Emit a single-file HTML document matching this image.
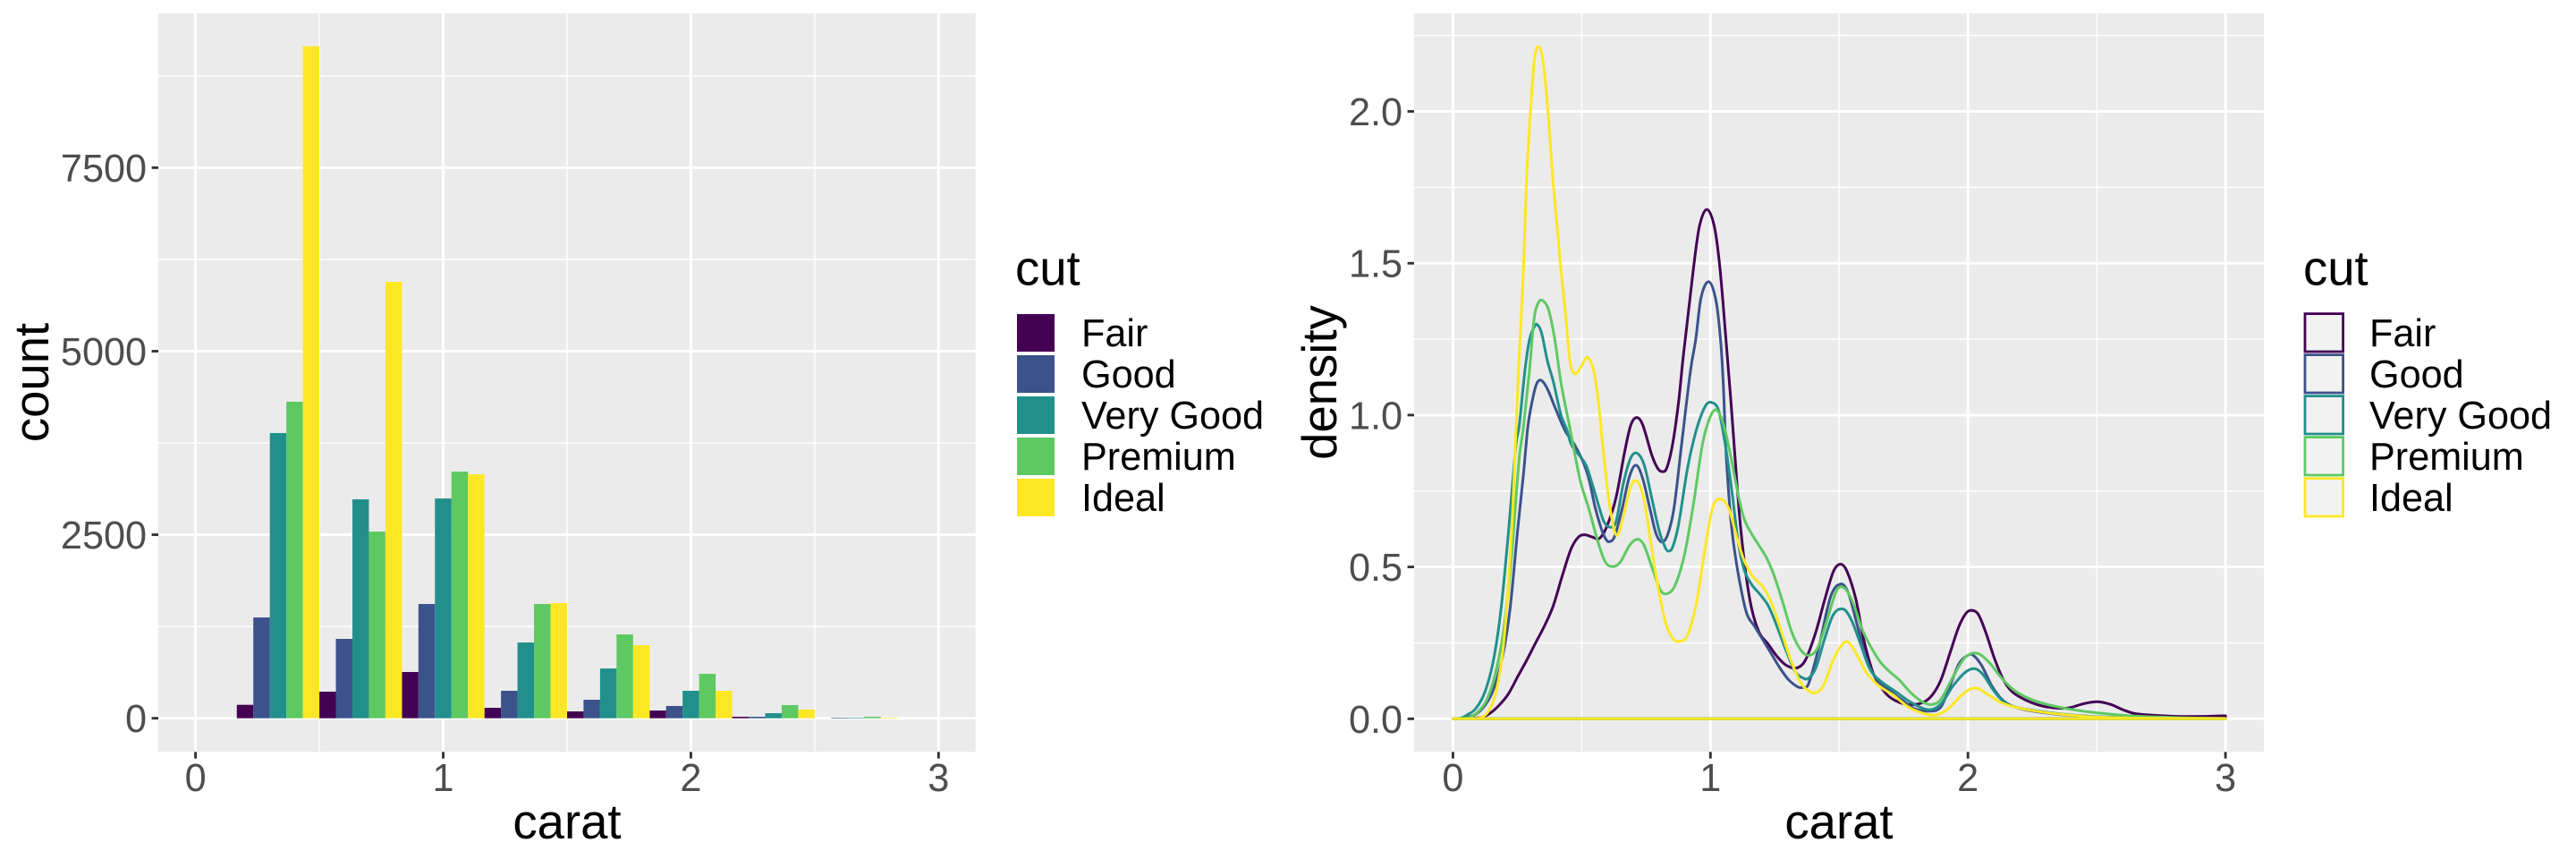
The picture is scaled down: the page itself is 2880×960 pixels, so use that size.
<!DOCTYPE html>
<html lang="en">
<head>
<meta charset="utf-8">
<title>Diamond carat by cut: histogram and density</title>
<style>
html,body{margin:0;padding:0;background:#fff;width:2880px;height:960px;overflow:hidden}
svg{display:block}
text{font-family:"Liberation Sans",sans-serif}
.tick{font-size:43.2px;fill:#4D4D4D}
.title{font-size:54.5px;fill:#000}
.leg{font-size:43.2px;fill:#000}
</style>
</head>
<body>
<svg id="figure" width="2880" height="960" viewBox="0 0 2880 960" xmlns="http://www.w3.org/2000/svg">
  <rect x="0" y="0" width="2880" height="960" fill="#fff"/>
  <g id="left"></g>
  <g id="right"></g>

  <text class="title" x="634" y="937" text-anchor="middle">carat</text>
  <text class="title" transform="translate(54 427.5) rotate(-90)" text-anchor="middle">count</text>
  <text class="title" x="2056" y="937" text-anchor="middle">carat</text>
  <text class="title" transform="translate(1494 427.5) rotate(-90)" text-anchor="middle">density</text>

  <text class="title" x="1135" y="318.5">cut</text>
  <text class="title" x="2575" y="318.5">cut</text>
</svg>
<script>
// ---------- shared categories ----------
const cuts = ["Fair", "Good", "Very Good", "Premium", "Ideal"];
const cutColors = ["#440154", "#3B528B", "#21908C", "#5EC962", "#FDE725"];

// ---------- histogram data ----------
const binStarts = [1/6, 1/2, 5/6, 7/6, 3/2, 11/6, 13/6, 5/2];
const binWidth = 1/3;
const countFair = [183, 362, 630, 142, 93, 105, 20, 0];
const countGood = [1373, 1081, 1556, 374, 252, 167, 20, 8];
const countVeryGood = [3885, 2982, 2994, 1032, 678, 374, 69, 8];
const countPremium = [4312, 2543, 3360, 1556, 1142, 605, 179, 20];
const countIdeal = [9154, 5945, 3323, 1568, 995, 374, 118, 8];
const histYTicks = [0, 2500, 5000, 7500];
const histYMinor = [1250, 3750, 6250, 8750];
const xTicks = [0, 1, 2, 3];
const xMinor = [0.5, 1.5, 2.5];

// ---------- density data: [carat, density] pairs ----------
const densFair = [[0,0],[.05,.001],[.112,.005],[.147,.02],[.182,.047],[.216,.083],[.251,.138],[.286,.192],[.321,.25],[.355,.305],[.39,.373],[.425,.472],[.459,.56],[.488,.599],[.511,.606],[.54,.599],[.569,.594],[.598,.634],[.633,.727],[.668,.884],[.691,.968],[.714,.992],[.737,.968],[.772,.869],[.795,.825],[.812,.814],[.83,.825],[.853,.904],[.876,1.041],[.894,1.19],[.934,1.483],[.957,1.621],[.986,1.677],[1.015,1.621],[1.037,1.483],[1.063,1.22],[1.079,1.051],[1.096,.855],[1.114,.658],[1.137,.481],[1.16,.363],[1.189,.285],[1.224,.246],[1.258,.206],[1.293,.177],[1.334,.167],[1.368,.192],[1.409,.285],[1.444,.393],[1.478,.486],[1.505,.509],[1.53,.486],[1.565,.393],[1.594,.265],[1.629,.157],[1.652,.118],[1.687,.078],[1.733,.054],[1.779,.047],[1.826,.054],[1.861,.078],[1.895,.128],[1.93,.216],[1.965,.304],[1.994,.349],[2.015,.357],[2.04,.344],[2.069,.285],[2.104,.196],[2.138,.128],[2.173,.088],[2.231,.059],[2.289,.042],[2.347,.035],[2.393,.036],[2.451,.05],[2.503,.056],[2.555,.047],[2.601,.03],[2.648,.017],[2.717,.012],[2.81,.008],[2.925,.008],[3,.01]];
const densGood = [[0,0],[.03,.001],[.054,.005],[.089,.015],[.124,.044],[.158,.098],[.193,.206],[.222,.363],[.251,.619],[.274,.806],[.291,.962],[.309,1.051],[.326,1.105],[.344,1.114],[.367,1.086],[.396,1.026],[.436,.948],[.471,.904],[.506,.845],[.529,.786],[.552,.697],[.575,.629],[.592,.594],[.606,.583],[.627,.599],[.656,.688],[.685,.796],[.711,.835],[.737,.791],[.766,.688],[.789,.609],[.812,.582],[.835,.609],[.859,.697],[.888,.904],[.923,1.149],[.943,1.25],[.963,1.385],[.994,1.439],[1.022,1.375],[1.04,1.24],[1.05,1.1],[1.061,.87],[1.079,.658],[1.096,.54],[1.12,.422],[1.142,.344],[1.171,.305],[1.2,.265],[1.235,.216],[1.27,.167],[1.304,.128],[1.339,.105],[1.357,.103],[1.38,.113],[1.421,.236],[1.467,.403],[1.507,.444],[1.536,.413],[1.571,.305],[1.606,.196],[1.652,.122],[1.698,.092],[1.744,.062],[1.791,.034],[1.849,.025],[1.895,.039],[1.93,.108],[1.965,.181],[1.994,.206],[2.017,.211],[2.052,.177],[2.093,.108],[2.138,.059],[2.185,.038],[2.254,.025],[2.347,.015],[2.463,.008],[2.636,.003],[3,.001]];
const densVeryGood = [[0,0],[.03,.002],[.054,.012],[.089,.034],[.124,.088],[.158,.196],[.187,.363],[.216,.619],[.245,.904],[.257,.962],[.28,1.15],[.297,1.247],[.315,1.289],[.326,1.299],[.344,1.271],[.367,1.178],[.39,1.11],[.419,1.002],[.442,.953],[.459,.904],[.494,.864],[.517,.835],[.54,.776],[.564,.707],[.587,.648],[.61,.631],[.633,.648],[.662,.776],[.691,.86],[.716,.874],[.743,.835],[.772,.727],[.801,.619],[.824,.565],[.836,.552],[.853,.565],[.876,.639],[.911,.825],[.946,.953],[.981,1.031],[1.007,1.041],[1.033,1.012],[1.061,.884],[1.085,.737],[1.108,.58],[1.131,.491],[1.16,.442],[1.189,.413],[1.224,.373],[1.258,.305],[1.293,.226],[1.328,.157],[1.357,.135],[1.38,.133],[1.409,.167],[1.444,.265],[1.478,.344],[1.517,.361],[1.548,.324],[1.583,.246],[1.617,.167],[1.652,.13],[1.722,.088],[1.779,.054],[1.849,.03],[1.895,.049],[1.942,.108],[1.988,.152],[2.025,.165],[2.057,.147],[2.104,.088],[2.15,.049],[2.208,.034],[2.277,.025],[2.37,.015],[2.52,.006],[3,.001]];
const densPremium = [[0,0],[.04,.001],[.066,.005],[.1,.025],[.135,.069],[.17,.167],[.199,.305],[.228,.54],[.257,.855],[.274,.962],[.297,1.145],[.315,1.316],[.332,1.37],[.349,1.377],[.372,1.345],[.396,1.247],[.419,1.11],[.454,.958],[.494,.786],[.529,.688],[.564,.58],[.592,.516],[.621,.501],[.65,.516],[.685,.57],[.714,.591],[.74,.575],[.772,.501],[.807,.422],[.836,.413],[.864,.442],[.899,.54],[.934,.707],[.969,.904],[.998,.992],[1.023,1.017],[1.05,.972],[1.079,.864],[1.108,.737],[1.131,.658],[1.16,.609],[1.189,.57],[1.218,.53],[1.247,.472],[1.281,.383],[1.316,.285],[1.351,.226],[1.383,.209],[1.415,.231],[1.449,.314],[1.49,.422],[1.521,.43],[1.553,.383],[1.594,.285],[1.652,.196],[1.687,.162],[1.733,.128],[1.779,.085],[1.826,.054],[1.861,.047],[1.895,.064],[1.942,.138],[1.988,.201],[2.034,.216],[2.081,.187],[2.127,.138],[2.173,.098],[2.231,.069],[2.3,.049],[2.393,.032],[2.486,.021],[2.613,.011],[2.81,.004],[3,.001]];
const densIdeal = [[0,0],[.08,.001],[.112,.005],[.141,.029],[.17,.098],[.199,.265],[.228,.619],[.245,.953],[.257,1.188],[.274,1.483],[.286,1.777],[.303,2.023],[.318,2.18],[.333,2.213],[.349,2.17],[.367,2.023],[.388,1.777],[.419,1.483],[.436,1.345],[.454,1.179],[.473,1.136],[.5,1.163],[.522,1.19],[.546,1.149],[.564,1.051],[.581,.904],[.603,.737],[.627,.619],[.642,.609],[.662,.668],[.691,.766],[.717,.781],[.743,.717],[.772,.56],[.801,.413],[.83,.305],[.859,.26],[.882,.255],[.911,.275],[.946,.383],[.975,.54],[1.009,.697],[1.044,.722],[1.073,.688],[1.102,.599],[1.131,.521],[1.166,.467],[1.206,.432],[1.241,.373],[1.276,.285],[1.311,.196],[1.351,.118],[1.386,.09],[1.409,.086],[1.438,.108],[1.478,.196],[1.513,.246],[1.534,.253],[1.565,.216],[1.606,.152],[1.652,.11],[1.71,.078],[1.768,.039],[1.826,.018],[1.872,.012],[1.919,.03],[1.965,.069],[2,.094],[2.034,.101],[2.081,.078],[2.127,.054],[2.185,.038],[2.266,.025],[2.37,.014],[2.486,.006],[2.694,.002],[3,.001]];
const densYTicks = ["0.0", "0.5", "1.0", "1.5", "2.0"];
const densYMinor = [0.25, 0.75, 1.25, 1.75, 2.25];

// ---------- axis functions ----------
function histX(c) { return 218.6 + c * 276.9; }
function histY(v) { return 802.7 - v * 0.08204; }
function densX(c) { return 1624.4 + c * 287.9; }
function densY(d) { return 803.3 - d * 339.4; }

const NS = "http://www.w3.org/2000/svg";
const MAJOR = 2.9, MINOR = 1.45, TICK = 7.4;

function make(parent, tag, attrs, text) {
  const el = document.createElementNS(NS, tag);
  for (const k in attrs) el.setAttribute(k, attrs[k]);
  if (text !== undefined) el.textContent = text;
  parent.appendChild(el);
  return el;
}

function drawFrame(root, box, xs, ys, xMinors, yMinors, xTickVals, yTickVals, yLabels, tickRight) {
  const panel = make(root, "rect", {x: box.l, y: box.t, width: box.r - box.l, height: box.b - box.t, fill: "#EBEBEB"});
  
  
  yMinors.forEach(function (v) {
    const g = make(root, "line", {x1: box.l, x2: box.r, y1: ys(v), y2: ys(v), stroke: "#fff", "stroke-width": MINOR});
    
    
  });
  xMinors.forEach(function (v) {
    const g = make(root, "line", {x1: xs(v), x2: xs(v), y1: box.t, y2: box.b, stroke: "#fff", "stroke-width": MINOR});
    
    
  });
  yTickVals.forEach(function (v, i) {
    const y = ys(v);
    const g = make(root, "line", {x1: box.l, x2: box.r, y1: y, y2: y, stroke: "#fff", "stroke-width": MAJOR});
    
    
    const t = make(root, "line", {x1: box.l - TICK, x2: box.l, y1: y, y2: y, stroke: "#333333", "stroke-width": MAJOR});
    
    
    const lab = make(root, "text", {class: "tick", x: tickRight, y: y + 15.5, "text-anchor": "end"}, yLabels[i]);
    
    
  });
  xTickVals.forEach(function (v) {
    const x = xs(v);
    const g = make(root, "line", {x1: x, x2: x, y1: box.t, y2: box.b, stroke: "#fff", "stroke-width": MAJOR});
    
    
    const t = make(root, "line", {x1: x, x2: x, y1: box.b, y2: box.b + TICK, stroke: "#333333", "stroke-width": MAJOR});
    
    
    const lab = make(root, "text", {class: "tick", x: x, y: 884, "text-anchor": "middle"}, String(v));
    
    
  });
}

// ---------- left: dodged histogram ----------
const left = document.getElementById("left");
drawFrame(left, {l: 177, r: 1090.7, t: 15, b: 840.3}, histX, histY, xMinor, histYMinor, xTicks, histYTicks, histYTicks.map(String), 164);

const countSeries = [countFair, countGood, countVeryGood, countPremium, countIdeal];
countSeries.forEach(function (values, s) {
  values.forEach(function (v, b) {
    if (v <= 0) return;
    const w = binWidth / cuts.length;
    const x0 = histX(binStarts[b] + s * w);
    const x1 = histX(binStarts[b] + (s + 1) * w);
    const bar = make(left, "rect", {x: x0, y: histY(v), width: x1 - x0, height: histY(0) - histY(v), fill: cutColors[s]});
    
    bar.setAttribute('data-series', cuts[s]);
    
  });
});

// ---------- right: density outlines ----------
const right = document.getElementById("right");
drawFrame(right, {l: 1581, r: 2531, t: 15, b: 840.3}, densX, densY, xMinor, densYMinor, xTicks, densYTicks.map(Number), densYTicks, 1568);

function densityPath(points) {
  const n = points.length;
  const slope = points.map(function (p, i) {
    const a = points[Math.max(i - 1, 0)], b = points[Math.min(i + 1, n - 1)];
    return (b[1] - a[1]) / (b[0] - a[0]);
  });
  let d = "M" + densX(points[0][0]).toFixed(2) + " " + densY(points[0][1]).toFixed(2);
  for (let i = 0; i < n - 1; i++) {
    const h = points[i + 1][0] - points[i][0];
    const c1x = points[i][0] + h / 3, c1y = points[i][1] + slope[i] * h / 3;
    const c2x = points[i + 1][0] - h / 3, c2y = points[i + 1][1] - slope[i + 1] * h / 3;
    d += "C" + densX(c1x).toFixed(2) + " " + densY(c1y).toFixed(2) + " " +
         densX(c2x).toFixed(2) + " " + densY(c2y).toFixed(2) + " " +
         densX(points[i + 1][0]).toFixed(2) + " " + densY(points[i + 1][1]).toFixed(2);
  }
  d += "L" + densX(points[n - 1][0]).toFixed(2) + " " + densY(0).toFixed(2) + "Z";
  return d;
}

const densSeries = [densFair, densGood, densVeryGood, densPremium, densIdeal];
densSeries.forEach(function (pts, s) {
  const path = make(right, "path", {d: densityPath(pts), fill: "none", stroke: cutColors[s], "stroke-width": 3, "stroke-linejoin": "round"});
  
  path.setAttribute('data-series', cuts[s]);
  
});

// ---------- legends ----------
const fig = document.getElementById("figure");
cuts.forEach(function (name, i) {
  const y = 349 + i * 46;
  const k1 = make(fig, "rect", {x: 1137, y: y + 2, width: 42, height: 42, fill: cutColors[i]});
  
  
  const t1 = make(fig, "text", {class: "leg", x: 1209, y: y + 37.9}, name);
  
  

  const k2 = make(fig, "rect", {x: 2577, y: y + 1.6, width: 42.6, height: 42.4, fill: "#F2F2F2", stroke: cutColors[i], "stroke-width": 2.8});
  
  
  const t2 = make(fig, "text", {class: "leg", x: 2649, y: y + 37.9}, name);
  
  
});
</script>
</body>
</html>
